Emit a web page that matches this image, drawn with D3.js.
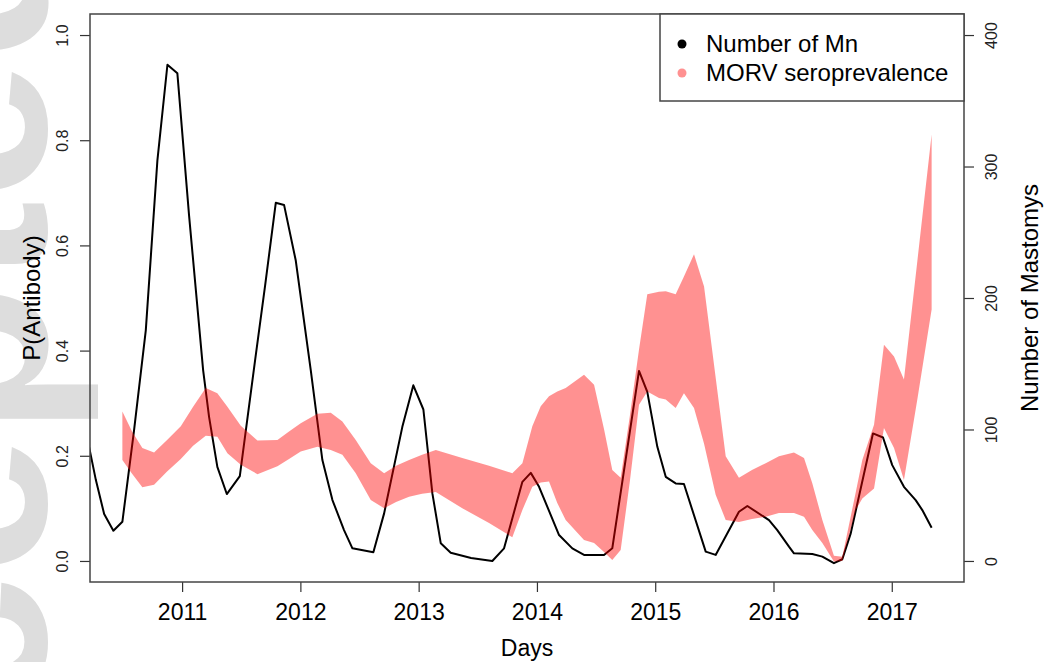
<!DOCTYPE html>
<html>
<head>
<meta charset="utf-8">
<script src="https://cdn.jsdelivr.net/npm/d3@7"></script>
<style>
  html, body { margin: 0; padding: 0; background: #fff; }
  svg { display: block; font-family: "Liberation Sans", Arial, Helvetica, sans-serif; }
</style>
</head>
<body>
<svg id="chart" width="1045" height="662"></svg>
<script>
// Modelled Mastomys natalensis abundance (right axis)
const mnDates = [2010.214, 2010.271, 2010.341, 2010.419, 2010.495, 2010.594, 2010.693, 2010.791, 2010.876, 2010.960,
  2011.059, 2011.178, 2011.228, 2011.298, 2011.378, 2011.488, 2011.617, 2011.702, 2011.792, 2011.862, 2011.961,
  2012.088, 2012.186, 2012.271, 2012.369, 2012.440, 2012.617, 2012.708, 2012.862, 2012.955,
  2013.040, 2013.116, 2013.187, 2013.271, 2013.443, 2013.623, 2013.722, 2013.877, 2013.948,
  2014.018, 2014.187, 2014.299, 2014.398, 2014.567, 2014.637, 2014.863, 2014.933,
  2015.018, 2015.089, 2015.173, 2015.243, 2015.427, 2015.511, 2015.708, 2015.779, 2015.962,
  2016.032, 2016.131, 2016.173, 2016.328, 2016.413, 2016.511, 2016.582, 2016.653, 2016.841, 2016.926,
  2017.004, 2017.103, 2017.202, 2017.258, 2017.337];
const mnCount = [86.6, 61.5, 35.7, 23.0, 29.8, 99.5, 175.4, 304.5, 377.4, 370.9,
  262.7, 145.0, 109.6, 71.6, 50.9, 64.5, 152.6, 209.6, 272.4, 270.8, 228.5,
  145.0, 76.7, 46.3, 23.5, 9.6, 6.6, 36.2, 102.0, 133.6,
  115.2, 51.4, 13.4, 6.3, 2.3, 0, 9.6, 60.2, 67.0,
  56.4, 19.7, 9.6, 4.6, 4.6, 9.6, 144.5, 128.6,
  86.8, 64.0, 59.0, 58.5, 7.1, 4.6, 37.4, 41.8, 31.1,
  23.5, 10.9, 5.8, 5.3, 3.3, -1.7, 1.3, 21.0, 97.0, 93.9,
  72.9, 56.4, 46.3, 38.7, 25.3];

// MORV seroprevalence credible band (left axis)
const bandDates = [2010.495, 2010.577, 2010.664, 2010.763, 2010.873, 2010.989, 2011.093, 2011.200, 2011.298, 2011.383,
  2011.496, 2011.637, 2011.806, 2011.904, 2012.003, 2012.144, 2012.257, 2012.355, 2012.468, 2012.595,
  2012.708, 2012.809, 2012.919, 2013.029, 2013.145, 2013.369, 2013.595, 2013.792, 2013.877, 2013.961,
  2014.032, 2014.102, 2014.172, 2014.243, 2014.398, 2014.483, 2014.567, 2014.637, 2014.708, 2014.787,
  2014.863, 2014.933, 2015.032, 2015.089, 2015.173, 2015.243, 2015.328, 2015.413, 2015.511, 2015.596,
  2015.708, 2015.818, 2015.934, 2016.046, 2016.173, 2016.258, 2016.328, 2016.413, 2016.511, 2016.582,
  2016.695, 2016.751, 2016.850, 2016.934, 2017.019, 2017.103, 2017.216, 2017.337];
const bandUpper = [0.284, 0.246, 0.215, 0.206, 0.230, 0.256, 0.293, 0.329, 0.319, 0.293,
  0.257, 0.229, 0.230, 0.246, 0.262, 0.280, 0.282, 0.265, 0.230, 0.186,
  0.167, 0.181, 0.192, 0.202, 0.211, 0.196, 0.181, 0.167, 0.186, 0.256,
  0.294, 0.313, 0.322, 0.329, 0.354, 0.335, 0.251, 0.173, 0.158, 0.278,
  0.402, 0.507, 0.512, 0.513, 0.507, 0.541, 0.583, 0.522, 0.349, 0.199,
  0.158, 0.173, 0.186, 0.199, 0.206, 0.196, 0.148, 0.078, 0.010, 0.008,
  0.130, 0.192, 0.259, 0.411, 0.389, 0.345, 0.570, 0.811];
const bandLower = [0.192, 0.166, 0.140, 0.145, 0.170, 0.194, 0.219, 0.238, 0.236, 0.205,
  0.183, 0.165, 0.180, 0.194, 0.208, 0.217, 0.211, 0.202, 0.167, 0.116,
  0.100, 0.112, 0.122, 0.128, 0.131, 0.100, 0.072, 0.045, 0.097, 0.141,
  0.149, 0.151, 0.110, 0.078, 0.040, 0.034, 0.017, 0.002, 0.021, 0.154,
  0.297, 0.322, 0.310, 0.307, 0.291, 0.319, 0.291, 0.223, 0.126, 0.078,
  0.074, 0.080, 0.084, 0.091, 0.091, 0.084, 0.059, 0.034, -0.001, 0.000,
  0.097, 0.119, 0.138, 0.253, 0.215, 0.154, 0.307, 0.478];

const yearTicks = [2011, 2012, 2013, 2014, 2015, 2016, 2017];
const probTicks = [0, 0.2, 0.4, 0.6, 0.8, 1.0];
const countTicks = [0, 100, 200, 300, 400];
const legendLabels = ["Number of Mn", "MORV seroprevalence"];

const svg = d3.select("#chart");
const plot = { left: 90, right: 964, top: 14, bottom: 582 };
const bandFill = "#ff0000", bandAlpha = 0.43;

// x range padded 4% around the band's dates
const xExt = d3.extent(bandDates);
const xPad = (xExt[1] - xExt[0]) * 0.04;
const x = d3.scaleLinear().domain([xExt[0] - xPad, xExt[1] + xPad]).range([plot.left, plot.right]);
const yP = d3.scaleLinear().domain([-0.04, 1.04]).range([plot.bottom, plot.top]);
const yN = d3.scaleLinear().domain([-16, 416]).range([plot.bottom, plot.top]);

// background watermark
svg.append("text")
  .attr("transform", "translate(46,1034) rotate(-90)")
  .attr("font-size", 250).attr("font-weight", "bold")
  .attr("fill", "#dddddd")
  .text("Accepted");

svg.append("clipPath").attr("id", "plotClip")
  .append("rect").attr("x", plot.left).attr("y", plot.top)
  .attr("width", plot.right - plot.left).attr("height", plot.bottom - plot.top);

const g = svg.append("g").attr("clip-path", "url(#plotClip)");

const mnData = mnDates.map((d, i) => ({ t: d, n: mnCount[i] }));
g.append("path").datum(mnData)
  .attr("fill", "none").attr("stroke", "#000").attr("stroke-width", 2)
  .attr("stroke-linejoin", "round")
  .attr("d", d3.line().x(d => x(d.t)).y(d => yN(d.n)));

const bandData = bandDates.map((d, i) => ({ t: d, lo: bandLower[i], hi: bandUpper[i] }));
g.append("path").datum(bandData)
  .attr("fill", bandFill).attr("fill-opacity", bandAlpha).attr("stroke", "none")
  .attr("d", d3.area().x(d => x(d.t)).y0(d => yP(d.lo)).y1(d => yP(d.hi)));

// axes
const axisColor = "#333";
const xAxis = svg.append("g").attr("transform", `translate(0,${plot.bottom})`)
  .call(d3.axisBottom(x).tickValues(yearTicks).tickFormat(d3.format("d")).tickSize(10).tickSizeOuter(0).tickPadding(12));
xAxis.select(".domain").remove();
xAxis.selectAll(".tick line").attr("stroke", axisColor).attr("stroke-width", 1.2);
xAxis.selectAll(".tick text").attr("font-size", 23).attr("fill", "#000")
  .attr("font-family", "'Liberation Sans', Arial, sans-serif");

const yAxisL = svg.append("g").attr("transform", `translate(${plot.left},0)`)
  .call(d3.axisLeft(yP).tickValues(probTicks).tickFormat(d3.format(".1f")).tickSize(10).tickSizeOuter(0));
yAxisL.select(".domain").remove();
yAxisL.selectAll(".tick line").attr("stroke", axisColor).attr("stroke-width", 1.2);
yAxisL.selectAll(".tick text")
  .attr("transform", "rotate(-90)").attr("x", 0).attr("y", -22).attr("dy", 0)
  .attr("text-anchor", "middle").attr("font-size", 16).attr("fill", "#222")
  .attr("font-family", "'Liberation Sans', Arial, sans-serif");

const yAxisR = svg.append("g").attr("transform", `translate(${plot.right},0)`)
  .call(d3.axisRight(yN).tickValues(countTicks).tickFormat(d3.format("d")).tickSize(10).tickSizeOuter(0));
yAxisR.select(".domain").remove();
yAxisR.selectAll(".tick line").attr("stroke", axisColor).attr("stroke-width", 1.2);
yAxisR.selectAll(".tick text")
  .attr("transform", "rotate(-90)").attr("x", 0).attr("y", 33).attr("dy", 0)
  .attr("text-anchor", "middle").attr("font-size", 16).attr("fill", "#222")
  .attr("font-family", "'Liberation Sans', Arial, sans-serif");

// frame
svg.append("rect").attr("x", plot.left).attr("y", plot.top)
  .attr("width", plot.right - plot.left).attr("height", plot.bottom - plot.top)
  .attr("fill", "none").attr("stroke", "#444").attr("stroke-width", 1.5);

// axis titles
svg.append("text").attr("x", (plot.left + plot.right) / 2).attr("y", 656)
  .attr("text-anchor", "middle").attr("font-size", 23).text("Days");
svg.append("text").attr("transform", `translate(40,${(plot.top + plot.bottom) / 2}) rotate(-90)`)
  .attr("text-anchor", "middle").attr("font-size", 24).text("P(Antibody)");
svg.append("text").attr("transform", `translate(1038,${(plot.top + plot.bottom) / 2}) rotate(-90)`)
  .attr("text-anchor", "middle").attr("font-size", 24).text("Number of Mastomys");

// legend
const lg = svg.append("g");
lg.append("rect").attr("x", 660).attr("y", plot.top).attr("width", plot.right - 660).attr("height", 87)
  .attr("fill", "#fff").attr("stroke", "#444").attr("stroke-width", 1.5);
const legendColors = [{ fill: "#000", op: 1 }, { fill: bandFill, op: bandAlpha }];
legendLabels.forEach((lab, i) => {
  const cy = 44 + i * 29;
  lg.append("circle").attr("cx", 682).attr("cy", cy).attr("r", 4.5)
    .attr("fill", legendColors[i].fill).attr("fill-opacity", legendColors[i].op);
  lg.append("text").attr("x", 706).attr("y", cy).attr("dy", "0.35em")
    .attr("font-size", 24).text(lab);
});
</script>
</body>
</html>
